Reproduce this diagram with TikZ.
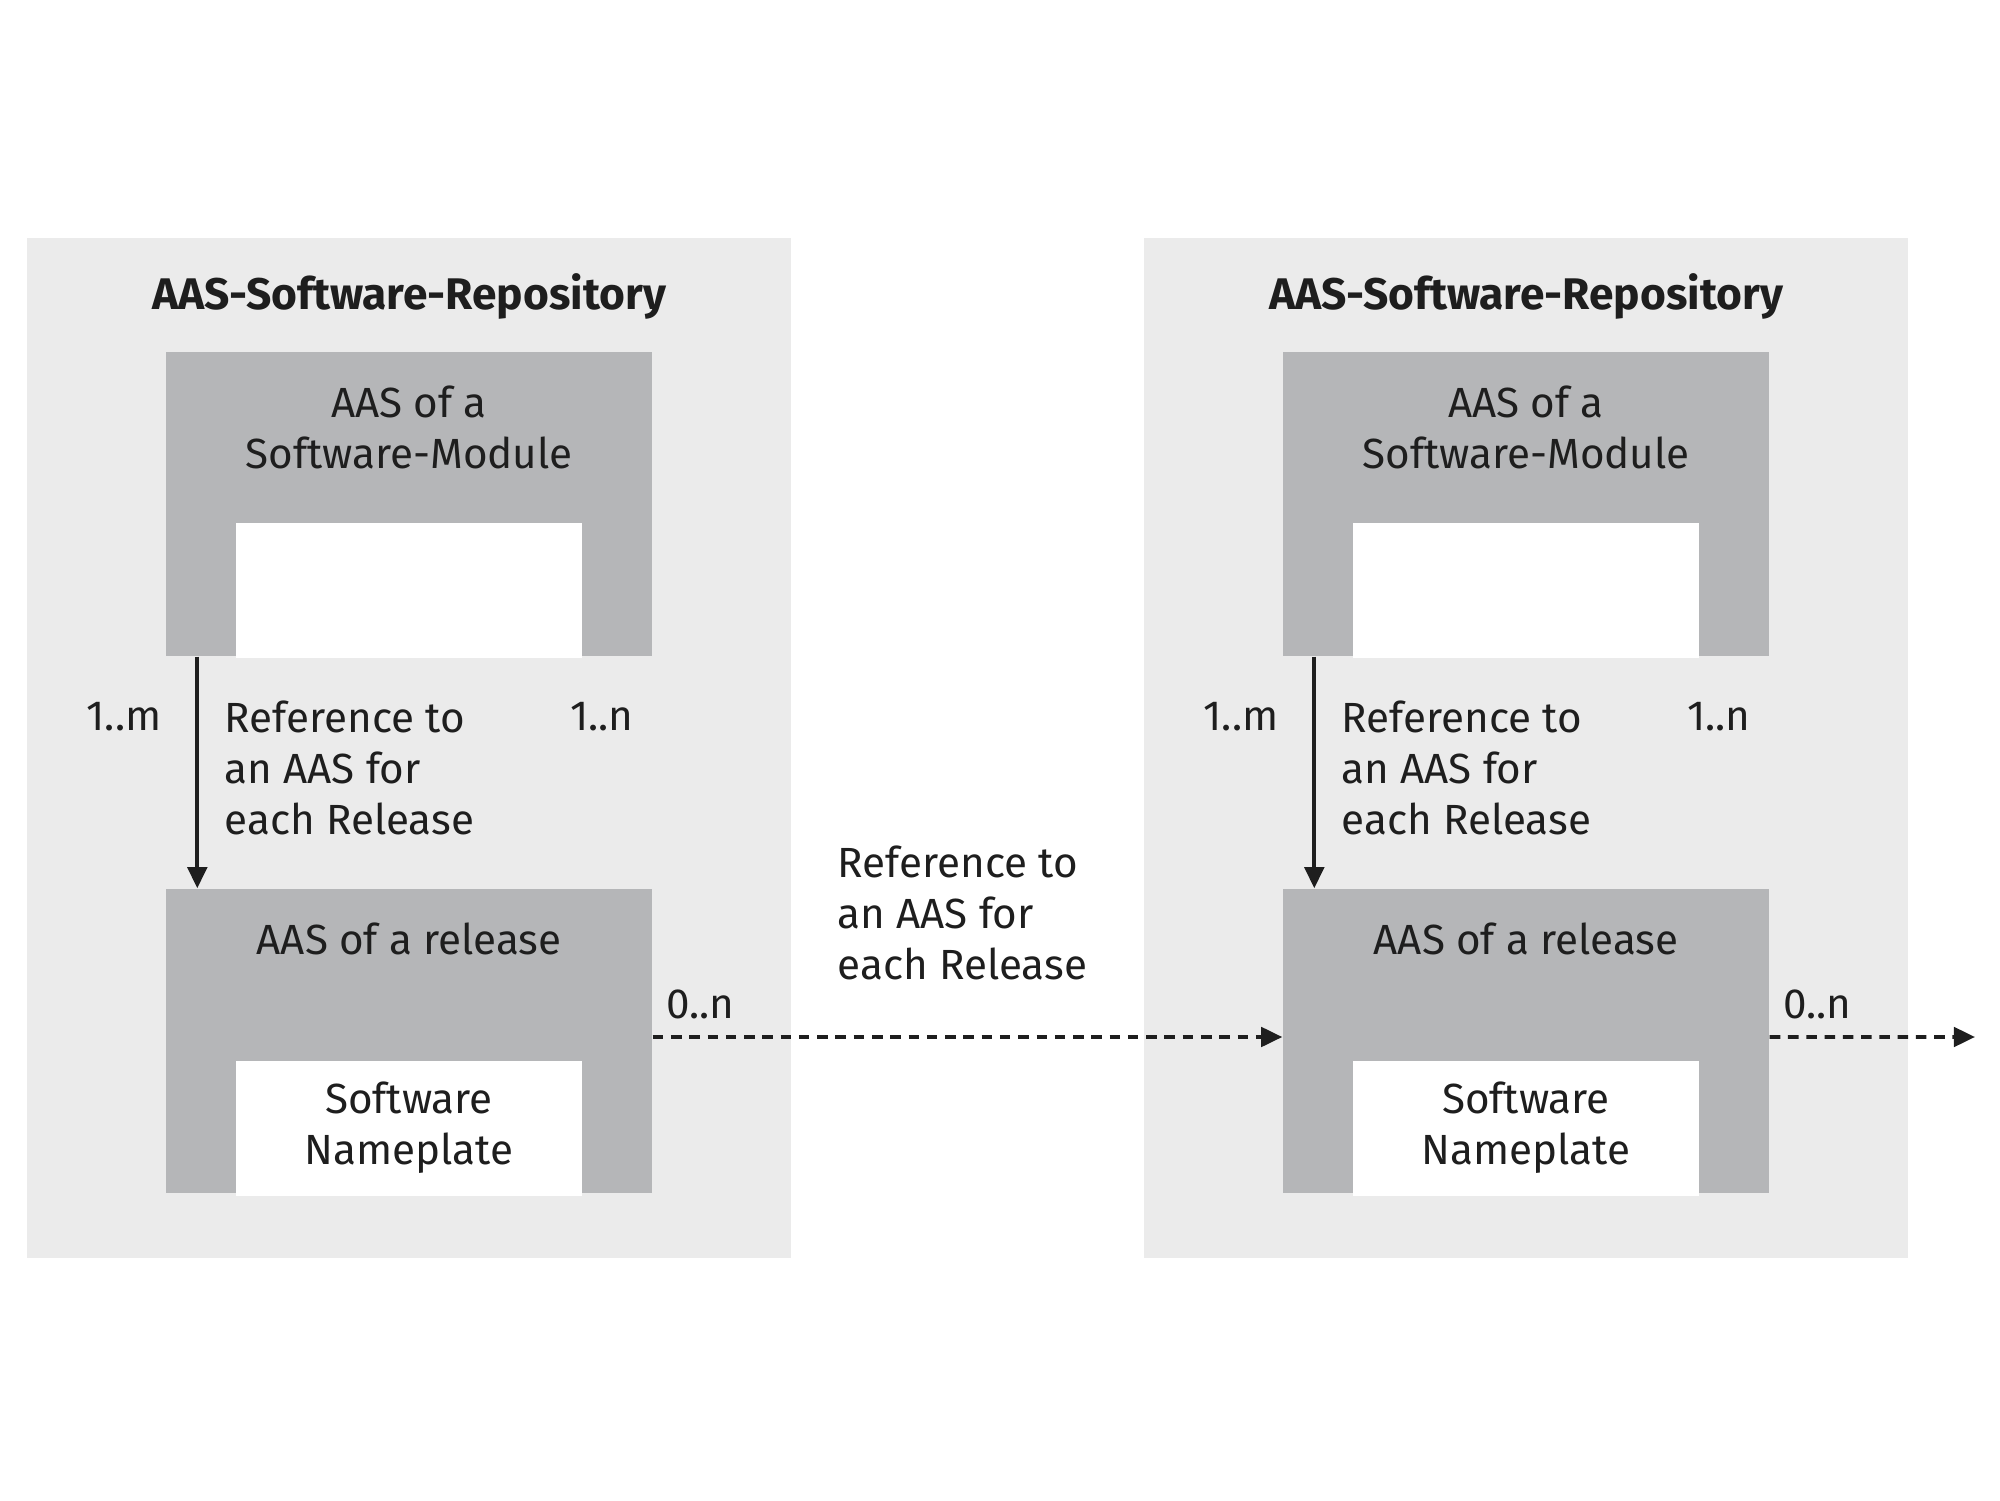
\documentclass[tikz,border=0pt]{standalone}
\usepackage{fontspec}
\setmainfont{Fira Sans}
\usetikzlibrary{arrows.meta}
\definecolor{repobg}{HTML}{EBEBEB}
\definecolor{aasgray}{HTML}{B5B6B8}
\definecolor{ink}{HTML}{1E1E1E}
\begin{document}
\begin{tikzpicture}[font=\fontsize{12}{14.5}\selectfont, text=ink,
  repo/.style={fill=repobg, minimum width=7.64cm, minimum height=10.2cm, inner sep=0pt},
  aas/.style={fill=aasgray, minimum width=4.86cm, minimum height=3.04cm, inner sep=0pt},
  slot/.style={fill=white, minimum width=3.46cm, minimum height=1.35cm, inner sep=0pt, align=center},
  txt/.style={align=center, inner sep=0pt},
  lnk/.style={draw=ink, line width=1.1pt, -{Triangle[length=6pt,width=5.5pt]}},
  dsh/.style={lnk, dash pattern=on 3pt off 2.2pt}]
\useasboundingbox (0,0) rectangle (20,15);
% beide Repositories
\foreach \p/\dx in {A/0,B/11.17}{
\begin{scope}[xshift=\dx cm]
\node[repo] (repo\p) at (4.09,7.52) {};
\node[txt, font=\bfseries\fontsize{12.6}{15}\selectfont] (title\p) at (4.09,12.04) {AAS-Software-Repository};
\node[aas] (mod\p) at (4.09,9.96) {};                     % AAS Modul
\node[slot] (modslot\p) at (4.09,9.095) {};
\node[txt] (modtxt\p) at (4.09,10.73) {AAS of a\\Software-Module};
\node[aas] (rel\p) at (4.09,4.59) {};                     % AAS Release
\node[slot] (nameplate\p) at (4.09,3.72) {Software\\Nameplate};
\node[txt] (reltxt\p) at (4.09,5.61) {AAS of a release};
\node[txt] (m\p) at (1.24,7.83) {1..m};
\node[txt, align=left, anchor=west] (ref\p) at (2.24,7.32) {Reference to\\an AAS for\\each Release};
\node[txt] (n\p) at (6.02,7.83) {1..n};
\node[txt] (zero\p) at (7.00,4.96) {0..n};
\draw[lnk] ([xshift=0.32cm]mod\p.south west) -- ([xshift=0.32cm]rel\p.north west);
\end{scope}}
% Verweis zwischen den Releases
\node[txt, align=left, anchor=west] (refmid) at (8.37,5.87) {Reference to\\an AAS for\\each Release};
\coordinate (out) at (19.75,4.63);
\draw[dsh] ([yshift=0.04cm]relA.east) -- ([yshift=0.04cm]relB.west);
\draw[dsh] ([yshift=0.04cm]relB.east) -- (out);
\end{tikzpicture}
\end{document}
